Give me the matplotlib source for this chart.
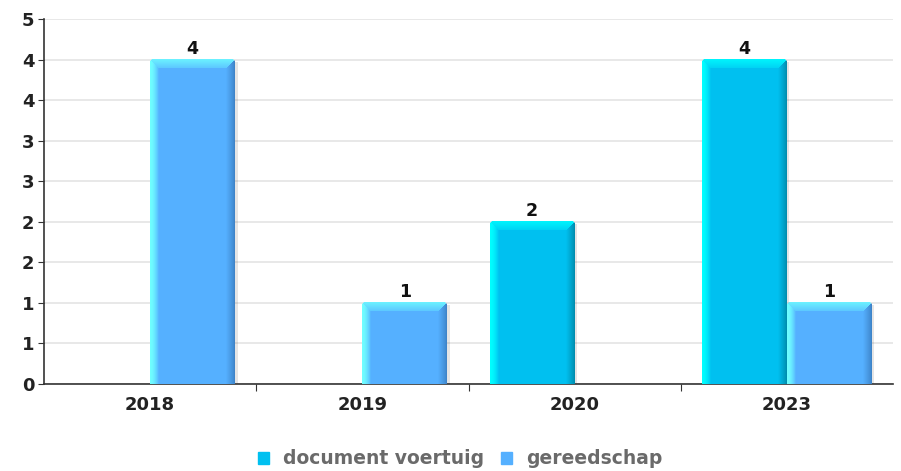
import numpy as np
import matplotlib
matplotlib.use("Agg")
import matplotlib.pyplot as plt
from matplotlib.colors import to_rgb
from matplotlib.patches import Patch, Rectangle

years = ["2018", "2019", "2020", "2023"]
series = ["document voertuig", "gereedschap"]
doc_voertuig = [0, 0, 2, 4]
gereedschap = [4, 1, 0, 1]
colors = ["#00c0f0", "#55b0ff"]
light = ["#00ffff", "#70ffff"]
dark = ["#0088a8", "#3c80c4"]

plt.rcParams['font.family'] = 'DejaVu Sans'

fig = plt.figure(figsize=(9.01, 4.71), dpi=100)
ax_px = (849, 365)
ax = fig.add_axes([44/901, 1-384/471, 849/901, 365/471])

ymax = 4.5
ax.set_xlim(0, 4)
ax.set_ylim(0, ymax)


def bevel_bar(base, hi, lo, w_px, h_px, b=9):
    base, hi, lo = (np.array(to_rgb(c)) for c in (base, hi, lo))
    yy, xx = np.mgrid[0:h_px, 0:w_px].astype(float)
    dl = xx + 0.5
    dr = w_px - xx - 0.5
    dt = yy + 0.5
    img = np.ones((h_px, w_px, 4))
    img[..., :3] = base
    # left face: bright edge fading into the body
    m = (dl < b) & (dl <= dr)
    t = (dl / b)[..., None]
    img[..., :3] = np.where(m[..., None], hi + (base - hi) * t ** 1.8, img[..., :3])
    # right face: darker towards the edge
    m = (dr < b) & (dr < dl)
    t = (dr / b)[..., None]
    img[..., :3] = np.where(m[..., None], lo + (base - lo) * t ** 0.8, img[..., :3])
    # top face, stays lighter than the body
    m = (dt < b) & (dt <= dl) & (dt <= dr)
    t = (dt / b)[..., None]
    top = hi + (base - hi) * (0.15 + 0.55 * t)
    img[..., :3] = np.where(m[..., None], top, img[..., :3])
    # rounded top corners
    for cx in (0, w_px - 1):
        img[0, cx, 3] = 0
        img[1, cx, 3] = 0.4
    for cx in (1, w_px - 2):
        img[0, cx, 3] = 0.4
    return img


w = 0.4
for k, vals in enumerate([doc_voertuig, gereedschap]):
    offset = -0.2 if k == 0 else 0.2
    for i, v in enumerate(vals):
        if v <= 0:
            continue
        x0 = i + 0.5 + offset - w / 2
        w_px = int(round(w / 4 * ax_px[0]))
        h_px = int(round(v / ymax * ax_px[1]))
        # soft shadow on the right side
        ax.add_patch(Rectangle((x0 + w, 0), 0.012, v - 0.03, color='#000000',
                               alpha=0.10, lw=0, zorder=2))
        img = bevel_bar(colors[k], light[k], dark[k], w_px, h_px)
        ax.imshow(img, extent=[x0, x0 + w, 0, v], aspect='auto',
                  interpolation='nearest', zorder=3, origin='upper')
        ax.text(x0 + w / 2, v + 0.02, str(v), ha='center', va='bottom',
                fontsize=12.5, fontweight='bold', color='#111111', zorder=5)

ax.set_xlim(0, 4)
ax.set_ylim(0, ymax)

yt = np.arange(0, 4.51, 0.5)
ax.set_yticks(yt)
ax.set_yticklabels([str(int(np.floor(y + 0.5))) for y in yt])
ax.yaxis.grid(True, color='#e4e4e4', linewidth=1.2, zorder=0)
ax.set_axisbelow(True)

ax.set_xticks([1, 2, 3], minor=False)
ax.set_xticklabels([])
ax.set_xticks([0.5, 1.5, 2.5, 3.5], minor=True)
ax.set_xticklabels(years, minor=True)
ax.tick_params(axis='x', which='minor', length=0, pad=9)
ax.tick_params(axis='x', which='major', length=5, color='#333333')
ax.tick_params(axis='y', length=4, color='#333333', pad=3)
for lab in ax.get_yticklabels() + ax.get_xticklabels(minor=True):
    lab.set_fontweight('bold')
    lab.set_fontsize(13)
    lab.set_color('#222222')

for s in ['top', 'right']:
    ax.spines[s].set_visible(False)
for s in ['left', 'bottom']:
    ax.spines[s].set_color('#333333')
    ax.spines[s].set_linewidth(1.2)

handles = [Patch(color=c, label=s) for c, s in zip(colors, series)]
leg = fig.legend(handles=handles, loc='center', bbox_to_anchor=(460/901, 1 - 459/471),
                 ncol=2, frameon=False, handlelength=0.6, handleheight=0.6,
                 handletextpad=0.75, columnspacing=0.9,
                 prop={'weight': 'bold', 'size': 13.5})
for t in leg.get_texts():
    t.set_color('#6a6a6a')

fig.savefig("out.png", dpi=100)
